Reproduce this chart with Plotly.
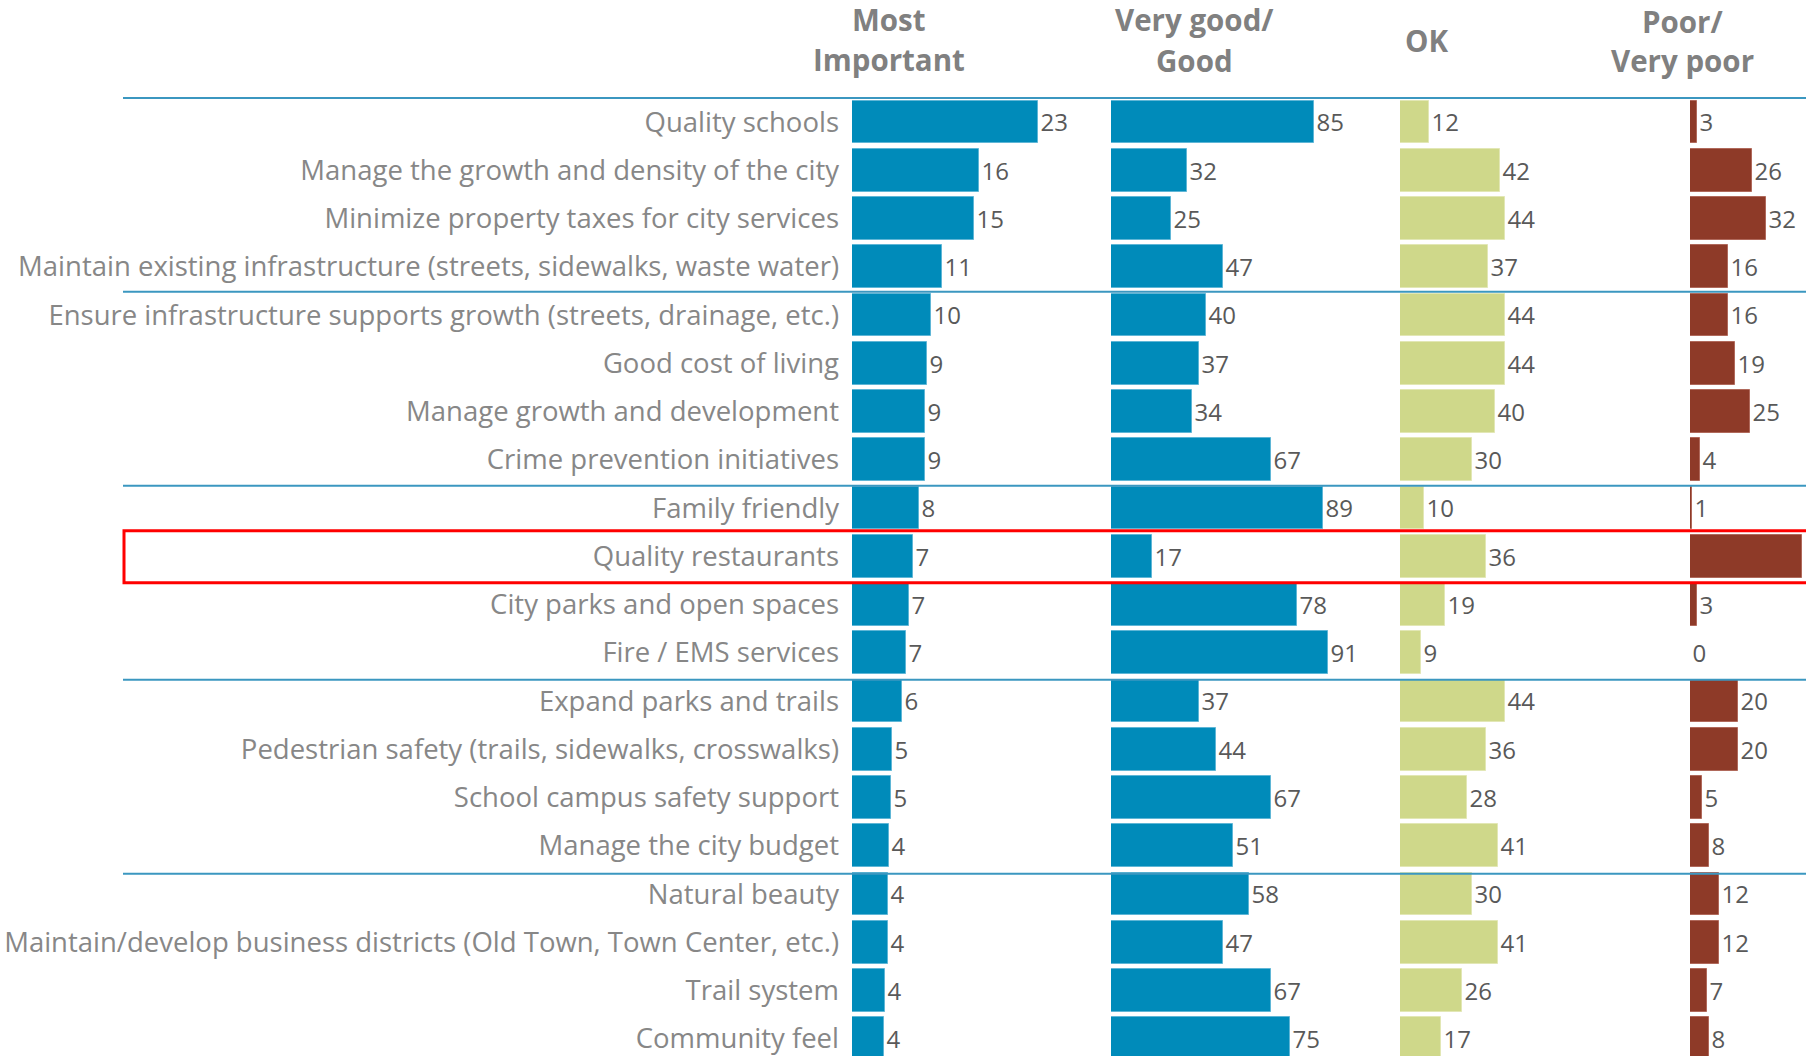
import plotly.graph_objects as go

categories = [
    "Quality schools",
    "Manage the growth and density of the city",
    "Minimize property taxes for city services",
    "Maintain existing infrastructure (streets, sidewalks, waste water)",
    "Ensure infrastructure supports growth (streets, drainage, etc.)",
    "Good cost of living",
    "Manage growth and development",
    "Crime prevention initiatives",
    "Family friendly",
    "Quality restaurants",
    "City parks and open spaces",
    "Fire / EMS services",
    "Expand parks and trails",
    "Pedestrian safety (trails, sidewalks, crosswalks)",
    "School campus safety support",
    "Manage the city budget",
    "Natural beauty",
    "Maintain/develop business districts (Old Town, Town Center, etc.)",
    "Trail system",
    "Community feel",
]
most_important = [22.75, 15.56, 14.95, 11.07, 9.68, 9.19, 8.98, 8.95, 8.16, 7.48,
                  7.02, 6.57, 6.16, 4.94, 4.78, 4.49, 4.36, 4.36, 4.08, 3.92]
very_good = [85, 32, 25, 47, 40, 37, 34, 67, 89, 17, 78, 91, 37, 44, 67, 51, 58, 47, 67, 75]
ok = [12, 42, 44, 37, 44, 44, 40, 30, 10, 36, 19, 9, 44, 36, 28, 41, 30, 41, 26, 17]
poor = [3, 26, 32, 16, 16, 19, 25, 4, 1, 47, 3, 0, 20, 20, 5, 8, 12, 12, 7, 8]
highlight = "Quality restaurants"

W, H = 1806, 1056
BLUE = "#008bba"
GREEN = "#cfd88a"
BROWN = "#8e3a28"
NUM_COLOR = "#595959"
LABEL_COLOR = "#878787"
HEAD_COLOR = "#808080"
FONT = "Open Sans"

idx = list(range(len(categories)))

# panel pixel geometry: (start px, end px, px per unit)
panels = [(852, 1100, 8.16), (1111, 1390, 2.385), (1400, 1680, 2.385), (1690, 1804, 2.385)]
series = [
    (most_important, BLUE, "#5fb6d6", "%{x:.0f}"),
    (very_good, BLUE, "#5fb6d6", "%{x}"),
    (ok, GREEN, "#e2e7b5", "%{x}"),
    (poor, BROWN, "#b0695b", "%{x}"),
]

fig = go.Figure()
for k, ((vals, col, lcol, tmpl), (p0, p1, s)) in enumerate(zip(series, panels)):
    xa = "x" if k == 0 else f"x{k+1}"
    fig.add_trace(go.Bar(
        y=idx, x=vals, orientation="h", xaxis=xa, yaxis="y",
        marker=dict(color=col, line=dict(color=lcol, width=1)),
        width=0.89,
        texttemplate=tmpl, textposition="outside", cliponaxis=True,
        constraintext="none",
        textfont=dict(family=FONT, size=24, color=NUM_COLOR),
        hoverinfo="skip", showlegend=False,
    ))
    axname = "xaxis" if k == 0 else f"xaxis{k+1}"
    fig.layout[axname] = dict(
        domain=[p0 / W, p1 / W], range=[0, (p1 - p0) / s],
        visible=False, fixedrange=True, anchor="y",
    )

center0, step = 122, 48.25
fig.update_layout(
    width=W, height=H, autosize=False,
    margin=dict(l=0, r=0, t=0, b=0),
    paper_bgcolor="white", plot_bgcolor="white",
    bargap=0,
    yaxis=dict(
        range=[(H - center0) / step, -center0 / step],
        tickvals=idx, ticktext=categories,
        tickfont=dict(family=FONT, size=27.5, color=LABEL_COLOR),
        showgrid=False, zeroline=False, showline=False, ticks="",
        ticklabelstandoff=12, ticklabeloverflow="allow",
        anchor="x", fixedrange=True,
    ),
)

# group separator lines
shapes = []
for g in range(5):
    yv = -0.5 + g * 4.02
    shapes.append(dict(type="line", xref="paper", yref="y", x0=123 / W, x1=1,
                       y0=yv, y1=yv, line=dict(color="#3b97c0", width=2), layer="above"))
hi = categories.index(highlight)
shapes.append(dict(type="rect", xref="paper", yref="y", x0=124 / W, x1=1.02,
                   y0=hi - 0.53, y1=hi + 0.55, line=dict(color="#ff0000", width=3),
                   fillcolor="rgba(0,0,0,0)", layer="above"))
fig.update_layout(shapes=shapes)

headers = [
    (889, [("Most", 20), ("Important", 60)]),
    (1194, [("Very good/", 20), ("Good", 61)]),
    (1426, [("OK", 41)]),
    (1682, [("Poor/", 21), ("Very poor", 61)]),
]
for xc, lines in headers:
    for txt, yc in lines:
        fig.add_annotation(
            x=xc / W, y=1 - yc / H, xref="paper", yref="paper",
            text=f"<b>{txt}</b>", showarrow=False,
            xanchor="center", yanchor="middle",
            font=dict(family=FONT, size=29.5, color=HEAD_COLOR),
        )

fig.write_html(
    "out.html",
    config={"displayModeBar": False},
    post_script="document.body.style.margin='0';document.body.style.overflow='hidden';",
)
